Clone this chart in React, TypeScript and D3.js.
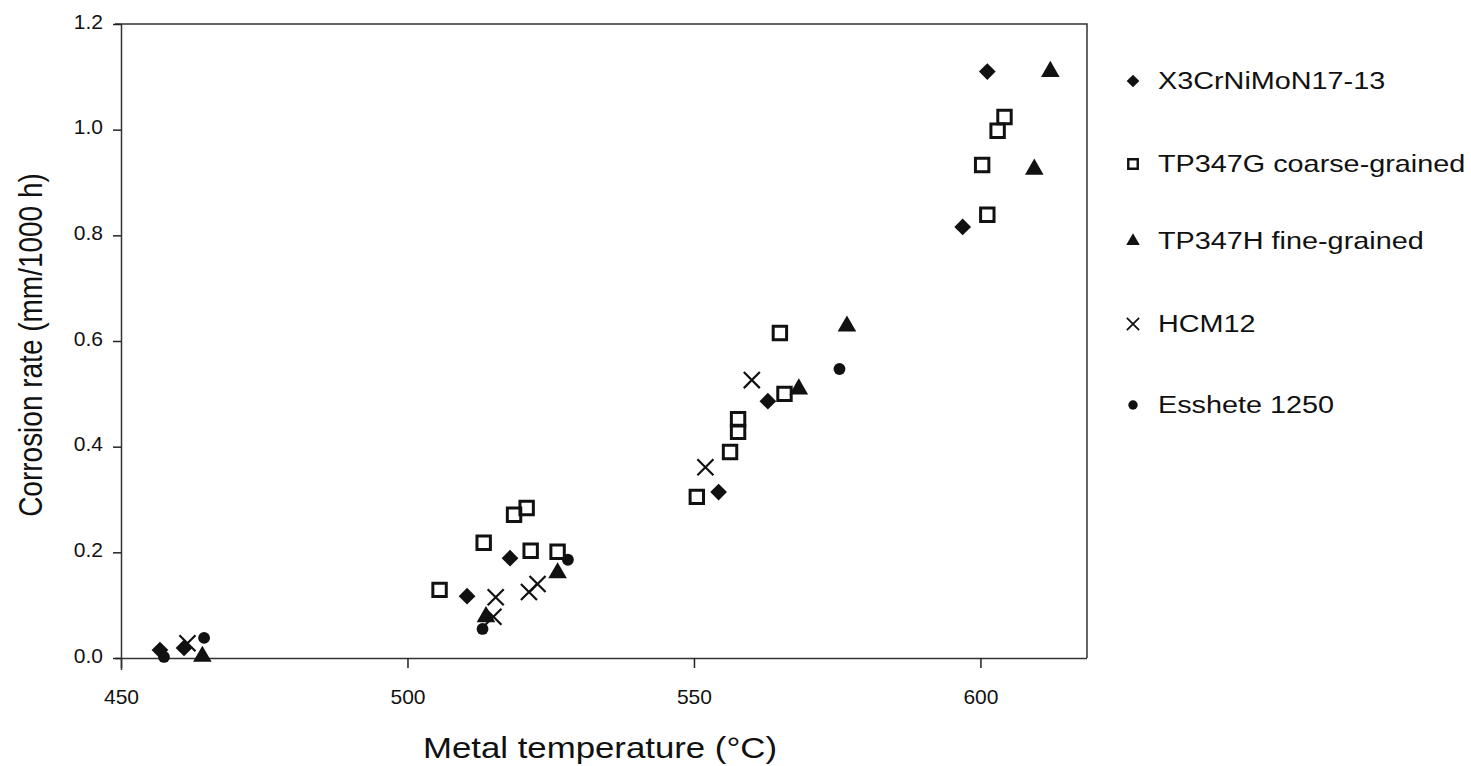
import { useEffect, useRef } from 'react'
import * as d3 from 'd3'

// [temperature °C, corrosion rate mm/1000 h]
const x3CrNiMoN: [number, number][] = [
  [456.8, 0.015], [461.0, 0.019], [510.4, 0.117], [517.9, 0.189],
  [554.3, 0.314], [562.9, 0.486], [596.9, 0.816], [601.2, 1.11]
]
const tp347G: [number, number][] = [
  [505.6, 0.129], [513.3, 0.218], [518.6, 0.271], [520.8, 0.284],
  [521.5, 0.203], [526.2, 0.201], [550.5, 0.305], [556.3, 0.39],
  [557.7, 0.428], [557.7, 0.452], [565.8, 0.5], [565.0, 0.615],
  [604.2, 1.024], [603.0, 0.998], [600.3, 0.933], [601.2, 0.839]
]
const tp347H: [number, number][] = [
  [464.2, 0.003], [513.7, 0.078], [526.2, 0.161], [568.3, 0.509],
  [576.7, 0.628], [609.4, 0.925], [612.2, 1.11]
]
const hcm12: [number, number][] = [
  [461.6, 0.028], [515.4, 0.115], [515.0, 0.078], [522.7, 0.14],
  [521.2, 0.125], [552.0, 0.361], [560.1, 0.526]
]
const esshete: [number, number][] = [
  [457.5, 0.002], [464.5, 0.038], [513.1, 0.055], [528.0, 0.186], [575.4, 0.547]
]

const xTicks = [450, 500, 550, 600]
const yTicks = [0, 0.2, 0.4, 0.6, 0.8, 1.0, 1.2]

const seriesNames = [
  'X3CrNiMoN17-13',
  'TP347G coarse-grained',
  'TP347H fine-grained',
  'HCM12',
  'Esshete 1250'
]

export default function App() {
  const ref = useRef<SVGSVGElement>(null)

  useEffect(() => {
    if (!ref.current) return
    const svg = d3.select(ref.current)
    svg.selectAll('*').remove()

    const left = 121
    const right = 1087
    const top = 24
    const bottom = 658
    const font = 'Arial, "Liberation Sans", sans-serif'
    const ink = '#111'
    const stretch = 1.2 // the scan is wider than tall

    const x = d3.scaleLinear().domain([450, 618.6]).range([left, right])
    const y = d3.scaleLinear().domain([0, 1.2]).range([bottom, top])

    // frame (top and right)
    svg.append('path')
      .attr('d', `M${left - 6},${top} H${right} V${bottom}`)
      .attr('fill', 'none')
      .attr('stroke', '#333')
      .attr('stroke-width', 1.5)

    const gx = svg.append('g')
      .attr('transform', `translate(0,${bottom})`)
      .call(d3.axisBottom(x).tickValues(xTicks).tickFormat(d3.format('d')).tickSize(10))
    gx.select('.domain').attr('d', `M${left - 6},0.5H${right}`)
    gx.selectAll('.tick text')
      .attr('y', 0)
      .attr('dy', 0)
      .attr('transform', 'translate(0,46)')

    const gy = svg.append('g')
      .attr('transform', `translate(${left},0)`)
      .call(d3.axisLeft(y).tickValues(yTicks).tickFormat(d3.format('.1f')).tickSize(8))
    gy.select('.domain').attr('d', `M0.5,${top}V${bottom + 12}`)
    gy.selectAll('.tick text')
      .attr('x', 0)
      .attr('dy', 0)
      .attr('transform', 'translate(-18,4)')

    for (const g of [gx, gy]) {
      g.selectAll('.domain').attr('stroke', '#333').attr('stroke-width', 1.5)
      g.selectAll('.tick line').attr('stroke', '#222').attr('stroke-width', 1.5)
      g.selectAll('text')
        .attr('fill', ink)
        .style('font-family', font)
        .style('font-size', '21px')
    }

    svg.append('text')
      .attr('transform', `translate(600,758) scale(${stretch},1)`)
      .attr('text-anchor', 'middle')
      .attr('fill', ink)
      .style('font-family', font)
      .style('font-size', '29px')
      .text('Metal temperature (°C)')

    svg.append('text')
      .attr('transform', `translate(42,345) rotate(-90) scale(1,${stretch})`)
      .attr('text-anchor', 'middle')
      .attr('fill', ink)
      .style('font-family', font)
      .style('font-size', '28px')
      .text('Corrosion rate (mm/1000 h)')

    const sq = (s: number) => d3.symbol(d3.symbolSquare, s)() as string
    const styles = [
      { data: x3CrNiMoN, path: sq(140), rot: 45, fill: ink, stroke: 'none', sw: 0, lp: sq(80) },
      { data: tp347G, path: sq(180), rot: 0, fill: 'none', stroke: ink, sw: 3, lp: sq(90) },
      { data: tp347H, path: d3.symbol(d3.symbolTriangle, 150)() as string, rot: 0, fill: ink, stroke: 'none', sw: 0, lp: d3.symbol(d3.symbolTriangle, 80)() as string },
      { data: hcm12, path: d3.symbol(d3.symbolTimes, 170)() as string, rot: 0, fill: 'none', stroke: ink, sw: 2.2, lp: d3.symbol(d3.symbolTimes, 100)() as string },
      { data: esshete, path: d3.symbol(d3.symbolCircle, 110)() as string, rot: 0, fill: ink, stroke: 'none', sw: 0, lp: d3.symbol(d3.symbolCircle, 70)() as string }
    ]

    const legendY = [81, 164, 241, 324, 405]

    styles.forEach((st, i) => {
      svg.append('g')
        .selectAll('path')
        .data(st.data)
        .join('path')
        .attr('d', st.path)
        .attr('transform', d => `translate(${x(d[0])},${y(d[1])}) rotate(${st.rot})`)
        .attr('fill', st.fill)
        .attr('stroke', st.stroke)
        .attr('stroke-width', st.sw)

      const row = svg.append('g').attr('transform', `translate(1133,${legendY[i]})`)
      row.append('path')
        .attr('d', st.lp)
        .attr('transform', `rotate(${st.rot})`)
        .attr('fill', st.fill)
        .attr('stroke', st.stroke)
        .attr('stroke-width', st.sw ? st.sw * 0.8 : 0)
      row.append('text')
        .attr('transform', `translate(25,8) scale(${stretch},1)`)
        .attr('fill', ink)
        .style('font-family', font)
        .style('font-size', '24px')
        .text(seriesNames[i])
    })
  }, [])

  return (
    <svg
      ref={ref}
      width={1471}
      height={766}
      style={{ position: 'absolute', left: 0, top: 0, background: '#fff' }}
    />
  )
}
